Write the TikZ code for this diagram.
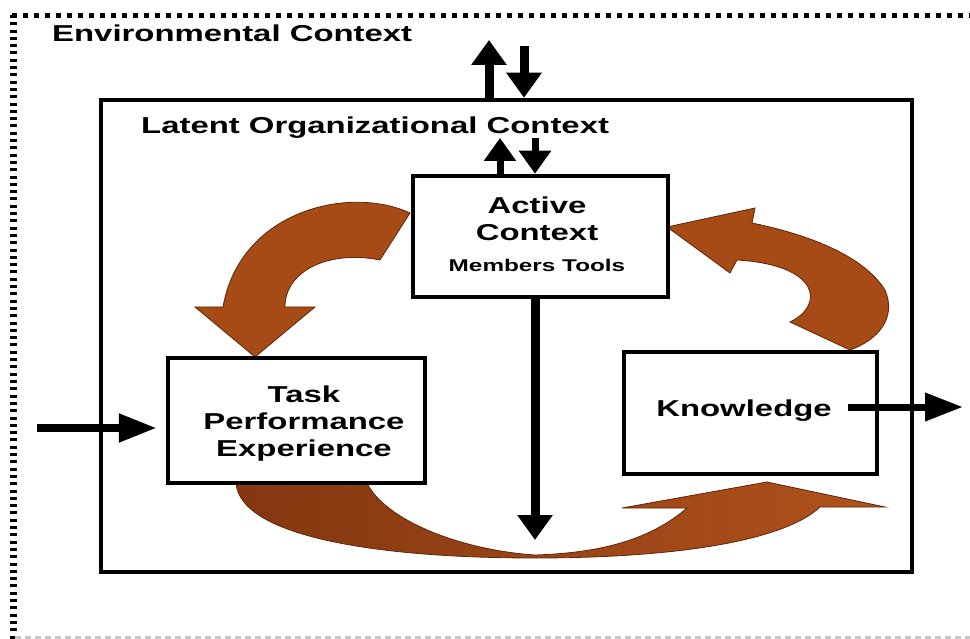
\documentclass[tikz,border=0pt]{standalone}
\usepackage{fontspec}
\setmainfont{Liberation Sans}[FakeStretch=1.43]
\usetikzlibrary{arrows.meta}
\definecolor{rust}{RGB}{166,75,22}
\definecolor{rustlight}{RGB}{176,82,28}
\definecolor{rustdark}{RGB}{132,55,16}
\definecolor{rustline}{RGB}{95,38,10}
\begin{document}
\begin{tikzpicture}[x=1pt,y=-1pt,
  frame/.style={draw, line width=4.5pt, fill=white, inner sep=0pt},
  txt/.style={align=center, inner sep=0pt, font=\bfseries\fontsize{23}{27}\selectfont},
  title/.style={anchor=base west, inner sep=0pt, font=\bfseries\fontsize{23}{27}\selectfont},
  vflow/.style={line width=9pt, -{Triangle[width=34pt,length=25pt]}},
  vflowsmall/.style={line width=7pt, -{Triangle[width=31pt,length=23pt]}},
  hflow/.style={line width=8pt, -{Triangle[width=27pt,length=38pt]}},
  curl/.style={draw=rustline, line width=0.8pt, fill=rust},
]
\useasboundingbox (0,0) rectangle (970,639);

% environmental context border
\draw[line width=5pt, dash pattern=on 5pt off 6pt] (12,15.5) -- (975,15.5);
\draw[line width=7pt, dash pattern=on 3pt off 4.3pt] (13,15) -- (13,645);
\draw[gray!45, line width=2.5pt, dash pattern=on 6pt off 4pt] (15,637.5) -- (975,637.5);

% latent organizational context
\node[draw, line width=4.5pt, minimum width=811pt, minimum height=472pt, inner sep=0pt] (latent) at (506.5,336) {};

\node[title] (envtitle) at (52,42) {Environmental Context};
\node[title] (lattitle) at (141,134) {Latent Organizational Context};

% curved flows
\draw[curl] (410,213) .. controls (350,185) and (240,210) .. (223,307)
  -- (195,307) -- (255,357) -- (315,307) -- (285,307)
  .. controls (285,270) and (330,250) .. (380,260) -- cycle;

\draw[curl] (850,350) -- (790,322)
  .. controls (825,305) and (820,265) .. (737,260)
  -- (730,273) -- (667,227) -- (755,208) -- (752,223)
  .. controls (815,236) and (865,258) .. (885,290)
  .. controls (897,318) and (878,340) .. (850,350) -- cycle;

\shadedraw[draw=rustline, line width=0.8pt, left color=rustdark, right color=rustlight]
  (236,483) .. controls (240,535) and (370,558) .. (535,558)
  .. controls (680,558) and (785,540) .. (820,507)
  -- (885,507) -- (767,482) -- (622,508) -- (687,508)
  .. controls (650,540) and (600,553) .. (535,555)
  .. controls (460,550) and (385,520) .. (367,483) -- cycle;

% boxes
\node[frame, minimum width=255pt, minimum height=121pt] (active) at (540.5,236.5) {};
\node[frame, minimum width=257pt, minimum height=125pt] (task) at (296.5,420.5) {};
\node[frame, minimum width=253pt, minimum height=122pt] (knowledge) at (750.5,413) {};

\node[txt] (activetext) at (537,234) {Active\\Context\\[4pt]{\fontsize{17}{20}\selectfont Members Tools}};
\node[txt] (tasktext) at (304,424) {Task\\Performance\\Experience};
\node[txt] (knowledgetext) at (744,411) {Knowledge};

% exchanges with the environment
\coordinate (envup) at (489,40);
\coordinate (envdown) at (524,46);
\draw[vflow] (latent.north -| envup) -- (envup);
\draw[vflow] (envdown) -- (latent.north -| envdown);

% exchanges with the latent context
\coordinate (latup) at (500,138);
\coordinate (latdown) at (535,138);
\draw[vflowsmall] (active.north -| latup) -- (latup);
\draw[vflowsmall] (latdown) -- (active.north -| latdown);

% active context down to the experience loop
\coordinate (downend) at (535,540);
\draw[vflow] (active.south -| downend) -- (downend);

% input and output
\coordinate (inflow) at (37,428);
\draw[hflow, shorten >=9pt] (inflow) -- (task.west |- inflow);
\coordinate (kstart) at (848,407);
\coordinate (outflow) at (963,407);
\draw[hflow, line width=7pt] (kstart) -- (outflow);
\end{tikzpicture}
\end{document}
